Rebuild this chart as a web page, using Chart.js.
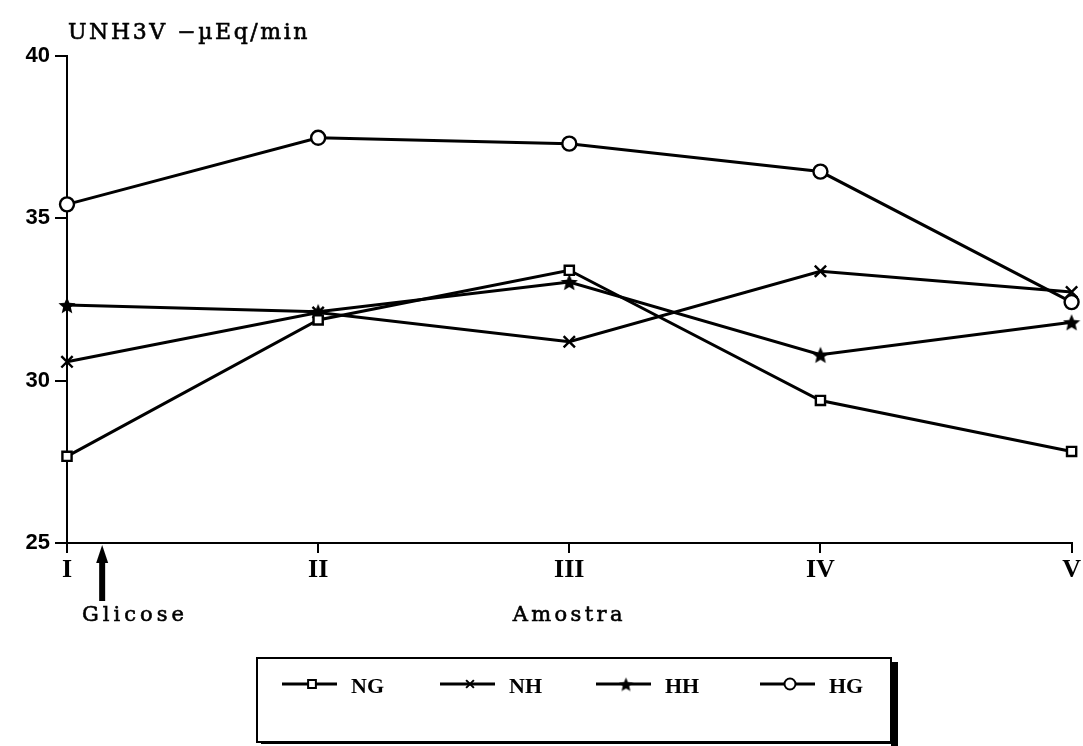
<!DOCTYPE html>
<html>
<head>
<meta charset="utf-8">
<script src="https://cdn.jsdelivr.net/npm/chart.js@4/dist/chart.umd.min.js"></script>
<style>
html,body{margin:0;padding:0;background:#fff;}
#wrap{width:1083px;height:746px;position:relative;}
</style>
</head>
<body>
<div id="wrap"><canvas id="c" width="1083" height="746"></canvas></div>
<script>
const categories = ["I", "II", "III", "IV", "V"];
const seriesNames = ["NG", "NH", "HH", "HG"];
const NG = [27.67, 31.87, 33.4, 29.39, 27.82];
const NH = [30.58, 32.1, 31.2, 33.37, 32.73];
const HH = [32.33, 32.12, 33.04, 30.8, 31.8];
const HG = [35.43, 37.48, 37.3, 36.44, 32.42];
const yTicks = [25, 30, 35, 40];
const yTitle = "UNH3V \u2212\u00B5Eq/min";
const xTitle = "Amostra";
const noteLabel = "Glicose";

// filled star marker
function makeStar(size) {
  const cv = document.createElement('canvas');
  cv.width = size; cv.height = size;
  const g = cv.getContext('2d');
  const cx = size / 2, cy = size / 2 + 1, R = size / 2, r = R * 0.45;
  g.beginPath();
  for (let i = 0; i < 10; i++) {
    const a = -Math.PI / 2 + i * Math.PI / 5;
    const rr = i % 2 === 0 ? R : r;
    g.lineTo(cx + rr * Math.cos(a), cy + rr * Math.sin(a));
  }
  g.closePath();
  g.fillStyle = '#000';
  g.fill();
  return cv;
}
const starImg = makeStar(18);
const starImgSmall = makeStar(15);

const styles = [
  {pointStyle: 'rect', radius: 6.5, bg: '#fff'},
  {pointStyle: 'crossRot', radius: 8, bg: '#fff'},
  {pointStyle: starImg, radius: 9, bg: '#000'},
  {pointStyle: 'circle', radius: 7, bg: '#fff'}
];
const legendStyles = ['rect', 'crossRot', starImgSmall, 'circle'];
const dataArr = [NG, NH, HH, HG];

const datasets = seriesNames.map((n, i) => ({
  label: n,
  data: dataArr[i],
  borderColor: '#000',
  backgroundColor: styles[i].bg,
  borderWidth: 3,
  pointStyle: styles[i].pointStyle,
  pointRadius: styles[i].radius,
  pointBorderWidth: 2.4,
  pointBackgroundColor: styles[i].bg,
  pointBorderColor: '#000',
  tension: 0,
  fill: false,
  clip: false
}));

function spacedText(ctx, text, x, y, targetW, align) {
  ctx.save();
  ctx.letterSpacing = '0px';
  const w = ctx.measureText(text).width;
  let ls = (targetW - w) / text.length;
  ctx.letterSpacing = ls + 'px';
  let x0 = x;
  if (align === 'center') x0 = x - targetW / 2;
  ctx.textAlign = 'left';
  ctx.fillText(text, x0, y);
  ctx.strokeStyle = '#000';
  ctx.lineWidth = 0.6;
  ctx.strokeText(text, x0, y);
  ctx.restore();
}

const decor = {
  id: 'decor',
  afterDraw(chart) {
    const ctx = chart.ctx;
    const xs = chart.scales.x, ys = chart.scales.y;
    ctx.save();
    ctx.fillStyle = '#000';
    ctx.strokeStyle = '#000';
    ctx.textBaseline = 'alphabetic';
    // y title
    ctx.font = '22px "DejaVu Serif"';
    spacedText(ctx, yTitle, xs.left + 1, 39, 242, 'left');
    // x title
    ctx.font = '21px "DejaVu Serif"';
    spacedText(ctx, xTitle, xs.getPixelForValue(2), 621, 113, 'center');
    spacedText(ctx, noteLabel, xs.left + 15, 621, 106, 'left');
    // arrow
    const ax = xs.getPixelForValue(0) + 0.14 * (xs.getPixelForValue(1) - xs.getPixelForValue(0));
    const ay = ys.bottom + 2;
    ctx.beginPath();
    ctx.moveTo(ax, ay);
    ctx.lineTo(ax - 6, ay + 18);
    ctx.lineTo(ax + 6, ay + 18);
    ctx.closePath();
    ctx.fill();
    ctx.fillRect(ax - 3, ay + 14, 6, 42);
    // legend box
    const bx = 257, by = 658, bw = 634, bh = 84;
    ctx.lineWidth = 2;
    ctx.strokeRect(bx, by, bw, bh);
    ctx.fillRect(bx + bw, by + 4, 7, bh + 10);
    ctx.fillRect(bx + 4, by + bh, bw, 2);
    const starts = [282, 440, 596, 760];
    const ly = 684;
    chart.data.datasets.forEach((ds, i) => {
      const x0 = starts[i];
      ctx.lineWidth = 3;
      ctx.strokeStyle = '#000';
      ctx.beginPath();
      ctx.moveTo(x0, ly);
      ctx.lineTo(x0 + 55, ly);
      ctx.stroke();
      ctx.fillStyle = ds.pointBackgroundColor;
      ctx.lineWidth = 2;
      Chart.helpers.drawPoint(ctx, {pointStyle: legendStyles[i], radius: 5.5, rotation: 0, borderWidth: 2}, x0 + 30, ly);
      ctx.fillStyle = '#000';
      ctx.font = 'bold 22px "Liberation Serif"';
      ctx.textBaseline = 'middle';
      ctx.fillText(ds.label, x0 + 69, ly + 3);
      ctx.textBaseline = 'alphabetic';
    });
    ctx.restore();
  }
};

new Chart(document.getElementById('c'), {
  type: 'line',
  data: {labels: categories, datasets},
  options: {
    responsive: false,
    animation: false,
    events: [],
    layout: {padding: {top: 56, right: 11, left: 0, bottom: 0}},
    plugins: {legend: {display: false}, tooltip: {enabled: false}, title: {display: false}},
    scales: {
      x: {
        offset: false,
        grid: {display: true, drawOnChartArea: false, drawTicks: true, tickLength: 10, color: '#000', lineWidth: 2},
        border: {display: true, color: '#000', width: 2},
        ticks: {color: '#000', font: {family: '"Liberation Serif"', size: 26, weight: 'bold'}, padding: 2, maxRotation: 0, autoSkip: false},
        afterFit(s) { s.height = 746 - 543; }
      },
      y: {
        min: 25, max: 40,
        afterBuildTicks(s) { s.ticks = yTicks.map(v => ({value: v})); },
        grid: {display: true, drawOnChartArea: false, drawTicks: true, tickLength: 12, color: '#000', lineWidth: 2},
        border: {display: true, color: '#000', width: 2},
        ticks: {color: '#000', font: {family: '"Liberation Sans"', size: 22, weight: 'bold'}, padding: 5},
        afterFit(s) { s.width = 67; }
      }
    }
  },
  plugins: [decor]
});
</script>
</body>
</html>
